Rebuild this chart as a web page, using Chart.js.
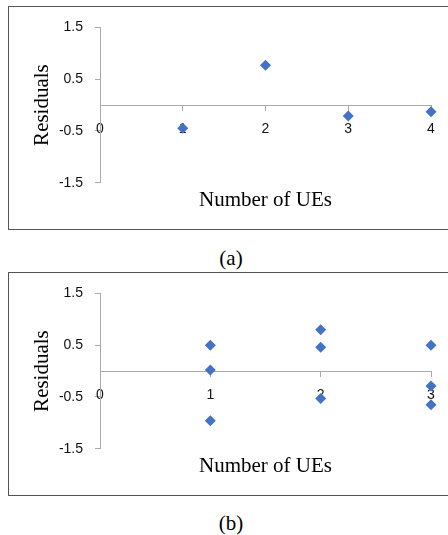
<!DOCTYPE html>
<html>
<head>
<meta charset="utf-8">
<script src="https://cdn.jsdelivr.net/npm/chart.js@4/dist/chart.umd.min.js"></script>
<style>
  html, body { margin: 0; padding: 0; background: #fff; overflow: hidden; }
  body { width: 448px; height: 535px; position: relative; }
  .box { position: absolute; left: 8px; width: 460px; height: 222px; border: 1px solid #555; }
  .box canvas { position: absolute; left: 0; top: 0; }
  .cap { position: absolute; width: 60px; left: 201px; text-align: center;
         font-family: "Liberation Serif", serif; font-size: 21px; color: #000; }
</style>
</head>
<body>
<div class="box" style="top:6px"><canvas id="chartA" width="440" height="222"></canvas></div>
<div class="cap" style="top:246px">(a)</div>
<div class="box" style="top:272px"><canvas id="chartB" width="440" height="222"></canvas></div>
<div class="cap" style="top:511px">(b)</div>
<script>
// residuals per number of UEs
const xA = [1, 2, 3, 4];
const yA = [-0.45, 0.77, -0.21, -0.13];
const xB = [1, 1, 1, 2, 2, 2, 3, 3, 3];
const yB = [0.5, 0.02, -0.96, 0.8, 0.46, -0.53, 0.5, -0.29, -0.65];

const yTicks = [-1.5, -0.5, 0.5, 1.5];
const xTicksA = [0, 1, 2, 3, 4];
const xTicksB = [0, 1, 2, 3];

const axisColor = "#aaaaaa";
const markColor = "#4472C4";

function makeChart(id, xs, ys, xTicks) {
  const pts = xs.map((x, i) => ({ x: x, y: ys[i] }));
  return new Chart(id, {
    type: "scatter",
    data: {
      datasets: [{
        data: pts,
        pointStyle: "rectRot",
        pointRadius: 5.5,
        pointBorderWidth: 0,
        backgroundColor: markColor,
        borderColor: markColor,
        clip: false
      }]
    },
    options: {
      responsive: false,
      animation: false,
      layout: { padding: { top: 18, right: 18, left: 0, bottom: 0 } },
      plugins: {
        legend: { display: false },
        tooltip: { enabled: false },
        title: {
          display: true,
          position: "bottom",
          fullSize: false,
          text: "Number of UEs",
          color: "#000",
          font: { family: "Liberation Serif", size: 21, weight: "normal" },
          padding: { top: 4.7, bottom: 16.4 }
        }
      },
      scales: {
        x: {
          type: "linear",
          position: { y: 0 },
          z: 1, // labels sit on top of the markers
          min: xTicks[0],
          max: xTicks[xTicks.length - 1],
          afterBuildTicks: s => { s.ticks = xTicks.map(v => ({ value: v })); },
          grid: { drawOnChartArea: false, drawTicks: true, tickLength: 5, color: axisColor },
          border: { display: true, color: axisColor },
          ticks: { color: "#111", padding: 11, maxRotation: 0,
                   font: { family: "Liberation Sans", size: 14 } }
        },
        y: {
          type: "linear",
          position: "left",
          min: yTicks[0],
          max: yTicks[yTicks.length - 1],
          afterBuildTicks: s => { s.ticks = yTicks.map(v => ({ value: v })); },
          afterFit: s => { s.width = 91; },
          grid: { drawOnChartArea: false, drawTicks: true, tickLength: 5, color: axisColor },
          border: { display: true, color: axisColor },
          ticks: { color: "#111", padding: 12,
                   font: { family: "Liberation Sans", size: 14 } },
          title: {
            display: true,
            text: "Residuals",
            color: "#000",
            font: { family: "Liberation Serif", size: 21, weight: "normal" },
            padding: { top: 20.4, bottom: 0 }
          }
        }
      }
    }
  });
}

makeChart("chartA", xA, yA, xTicksA);
makeChart("chartB", xB, yB, xTicksB);
</script>
</body>
</html>
